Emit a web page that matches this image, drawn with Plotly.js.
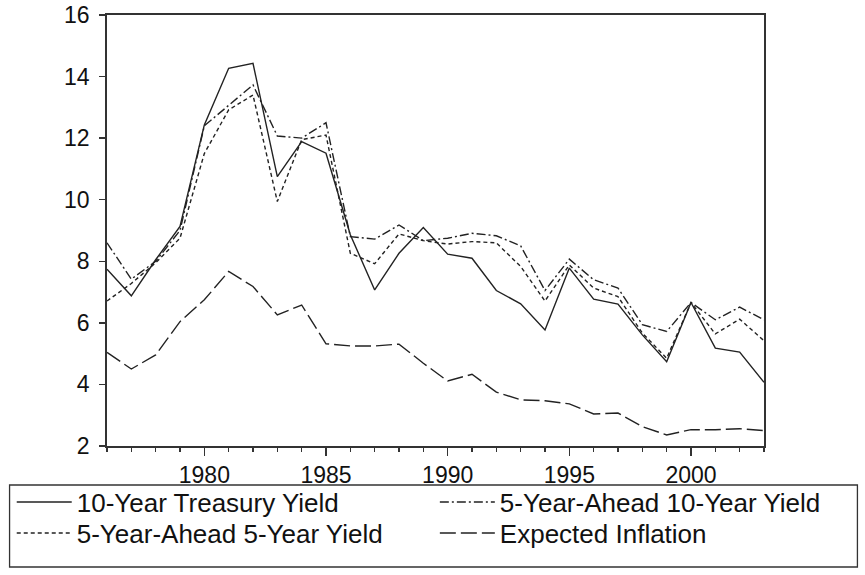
<!DOCTYPE html>
<html>
<head>
<meta charset="utf-8">
<script src="https://cdn.plot.ly/plotly-3.0.1.min.js"></script>
<style>html,body{margin:0;padding:0;background:#fff;}#chart{width:865px;height:575px;}</style>
</head>
<body>
<div id="chart"></div>
<script>
var years = [1976,1977,1978,1979,1980,1981,1982,1983,1984,1985,1986,1987,1988,1989,1990,1991,1992,1993,1994,1995,1996,1997,1998,1999,2000,2001,2002,2003];
var treasury10 = [7.74,6.88,8.05,9.13,12.43,14.27,14.43,10.75,11.89,11.51,8.86,7.07,8.26,9.10,8.23,8.10,7.05,6.62,5.77,7.78,6.77,6.61,5.61,4.74,6.66,5.18,5.05,4.07];
var ahead5y10 = [8.60,7.42,8.00,9.00,12.40,13.05,13.73,12.07,12.00,12.50,8.80,8.72,9.18,8.67,8.75,8.91,8.83,8.50,7.05,8.07,7.40,7.13,5.94,5.72,6.66,6.10,6.51,6.10];
var ahead5y5 = [6.71,7.28,7.95,8.75,11.50,12.92,13.40,9.94,11.95,12.10,8.26,7.92,8.89,8.67,8.56,8.64,8.60,7.83,6.71,7.88,7.13,6.85,5.67,4.85,6.66,5.64,6.12,5.42];
var expInflation = [5.04,4.50,4.96,6.04,6.75,7.67,7.18,6.26,6.58,5.32,5.25,5.25,5.31,4.69,4.11,4.33,3.75,3.50,3.47,3.37,3.04,3.07,2.63,2.36,2.53,2.53,2.56,2.50];
var names = ["10-Year Treasury Yield","5-Year-Ahead 10-Year Yield","5-Year-Ahead 5-Year Yield","Expected Inflation"];

var lc = "#222";
var lw = 1.4;
var traces = [
  {x: years, y: treasury10, name: names[0], mode: "lines", legend: "legend", line: {color: lc, width: lw, dash: "solid"}},
  {x: years, y: ahead5y10, name: names[1], mode: "lines", legend: "legend2", line: {color: lc, width: lw, dash: "9px,3px,2px,3px"}},
  {x: years, y: ahead5y5, name: names[2], mode: "lines", legend: "legend3", line: {color: lc, width: lw, dash: "4px,3px"}},
  {x: years, y: expInflation, name: names[3], mode: "lines", legend: "legend4", line: {color: lc, width: lw, dash: "16px,5px"}}
];

var fnt = {family: "Liberation Sans, Arial, sans-serif", size: 23, color: "#111"};
var lfnt = {family: "Liberation Sans, Arial, sans-serif", size: 26, color: "#111"};
function leg(x, y) {
  return {
    orientation: "v", x: x, y: y, xanchor: "left", yanchor: "middle",
    borderwidth: 0, bgcolor: "rgba(0,0,0,0)", font: lfnt, itemwidth: 55,
    tracegroupgap: 0, itemclick: false
  };
}
var layout = {
  width: 865, height: 575,
  margin: {l: 103, r: 101, t: 15, b: 129, pad: 0},
  paper_bgcolor: "#fff", plot_bgcolor: "#fff",
  font: fnt,
  showlegend: true,
  xaxis: {
    range: [1976, 2003], tick0: 1980, dtick: 5, ticks: "outside", ticklen: 8, tickwidth: 1.3, tickcolor: "#333",
    minor: {dtick: 1, tick0: 1976, ticks: "outside", ticklen: 4, tickwidth: 1.3, tickcolor: "#333", showgrid: false},
    showgrid: false, zeroline: false, showline: true, linecolor: "#333", linewidth: 1.8, mirror: true,
    tickfont: fnt
  },
  yaxis: {
    range: [2, 16], dtick: 2, ticks: "outside", ticklen: 6, tickwidth: 1.3, tickcolor: "#333",
    showgrid: false, zeroline: false, showline: true, linecolor: "#333", linewidth: 1.8, mirror: true,
    tickfont: fnt, ticklabelstandoff: 5
  },
  legend: leg(-0.145, -0.130),
  legend2: leg(0.499, -0.130),
  legend3: leg(-0.145, -0.202),
  legend4: leg(0.499, -0.202),
  shapes: [{
    type: "rect", xref: "paper", yref: "paper",
    x0: -0.1483, x1: 1.1422, y0: -0.2807, y1: -0.0905,
    line: {color: "#333", width: 1.3}, fillcolor: "rgba(0,0,0,0)", layer: "below"
  }]
};
Plotly.newPlot("chart", traces, layout, {staticPlot: true, displayModeBar: false});
</script>
</body>
</html>
